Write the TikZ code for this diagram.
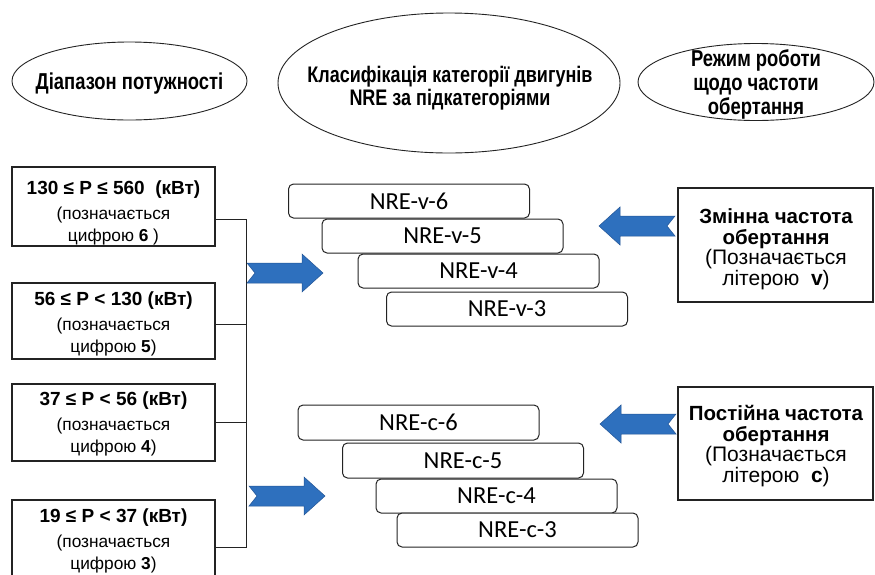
\documentclass[tikz,border=0pt]{standalone}
\usepackage{fontspec}
\setmainfont{Liberation Sans}
\newfontfamily\narrowfont[FakeStretch=0.8]{Liberation Sans}
\newfontfamily\calfont{Carlito}
\usetikzlibrary{shapes.geometric}
\definecolor{arrowblue}{RGB}{46,112,190}
\definecolor{arrowedge}{RGB}{35,85,150}
\definecolor{lineclr}{RGB}{35,35,35}
\begin{document}
\begin{tikzpicture}[x=1pt,y=-1pt,
  head/.style={ellipse,draw=lineclr,line width=0.9pt,inner sep=0pt},
  headtext/.style={align=center,inner sep=0pt,
    font=\narrowfont\bfseries\fontsize{23}{24}\selectfont},
  rangebox/.style={draw=lineclr,line width=1.1pt,minimum width=203pt,inner sep=0pt},
  rangetext/.style={align=center,inner sep=0pt,font=\fontsize{17.3}{22}\selectfont},
  modebox/.style={draw=lineclr,line width=1.1pt,minimum width=195pt,inner sep=0pt},
  modetext/.style={align=center,inner sep=0pt,font=\fontsize{21}{20.5}\selectfont},
  nrebox/.style={draw=lineclr,fill=white,line width=1pt,rounded corners=5pt,
    minimum width=241pt,minimum height=34pt,inner sep=0pt,
    font=\calfont\fontsize{24.5}{26}\selectfont},
  conn/.style={draw=lineclr,line width=1pt},
  blockarrow/.pic={\path[fill=arrowblue,draw=arrowedge,line width=0.5pt]
    (-76,-10) -- (-21,-10) -- (-21,-19) -- (0,0) -- (-21,19) -- (-21,10)
    -- (-76,10) -- (-68,0) -- cycle;}
]
\useasboundingbox (0,0) rectangle (875,574);
\clip (0,0) rectangle (875,574);

% header ellipses
\node[head,minimum width=235pt,minimum height=78pt] (h1) at (129.5,81) {};
\node[headtext] (ht1) at (129.5,84) {Діапазон потужності};
\node[head,minimum width=342pt,minimum height=140pt] (h2) at (449,83) {};
\node[headtext,font=\narrowfont\bfseries\fontsize{22.5}{22.5}\selectfont] (ht2) at (450,88)
  {Класифікація категорії двигунів\\NRE за підкатегоріями};
\node[head,minimum width=236pt,minimum height=77pt] (h3) at (756,82) {};
\node[headtext] (ht3) at (756,84)
  {Режим роботи\\щодо частоти\\обертання};

% power range boxes
\node[rangebox,minimum height=79pt] (b1) at (113.5,206.5) {};
\node[rangetext] (t1) at (113.5,212.5)
  {{\fontsize{19}{22}\selectfont\bfseries 130 ≤ P ≤ 560\ \ (кВт)}\\[3pt](позначається\\цифрою {\bfseries 6} )};
\node[rangebox,minimum height=76pt] (b2) at (113.5,321) {};
\node[rangetext] (t2) at (113.5,324)
  {{\fontsize{19}{22}\selectfont\bfseries 56 ≤ P < 130 (кВт)}\\[3pt](позначається\\цифрою {\bfseries 5})};
\node[rangebox,minimum height=77pt] (b3) at (113.5,422.5) {};
\node[rangetext] (t3) at (113.5,424)
  {{\fontsize{19}{22}\selectfont\bfseries 37 ≤ P < 56 (кВт)}\\[3pt](позначається\\цифрою {\bfseries 4})};
\node[rangebox,minimum height=90pt] (b4) at (113.5,545) {};
\node[rangetext] (t4) at (113.5,541)
  {{\fontsize{19}{22}\selectfont\bfseries 19 ≤ P < 37 (кВт)}\\[3pt](позначається\\цифрою {\bfseries 3})};

% bracket connector
\coordinate (j1) at (246,219);
\coordinate (j2) at (246,324);
\coordinate (j3) at (246,422);
\coordinate (j4) at (246,547);
\draw[conn] (b1.east |- j1) -- (j1) -- (j4) -- (b4.east |- j4);
\draw[conn] (b2.east |- j2) -- (j2);
\draw[conn] (b3.east |- j3) -- (j3);

% NRE-v boxes
\node[nrebox] (v6) at (409,201) {NRE-v-6};
\node[nrebox] (v5) at (442.5,236) {NRE-v-5};
\node[nrebox] (v4) at (478.5,271) {NRE-v-4};
\node[nrebox] (v3) at (507,309) {NRE-v-3};

% NRE-c boxes
\node[nrebox,minimum height=35pt] (c6) at (418.5,422.5) {NRE-c-6};
\node[nrebox,minimum height=35pt] (c5) at (463,460.5) {NRE-c-5};
\node[nrebox] (c4) at (496.5,496) {NRE-c-4};
\node[nrebox] (c3) at (517.5,530) {NRE-c-3};

% mode boxes
\node[modebox,minimum height=114pt] (m1) at (775.5,245) {};
\node[modetext] (mt1) at (776,249)
  {{\fontsize{20.5}{20.5}\selectfont\bfseries Змінна частота}\\{\fontsize{20.5}{20.5}\selectfont\bfseries обертання}\\(Позначається\\літерою\ \ {\bfseries v})};
\node[modebox,minimum height=113pt] (m2) at (775.5,443.5) {};
\node[modetext] (mt2) at (776,446)
  {{\fontsize{20.5}{20.5}\selectfont\bfseries Постійна частота}\\{\fontsize{20.5}{20.5}\selectfont\bfseries обертання}\\(Позначається\\літерою\ \ {\bfseries c})};

% block arrows
\pic (a1) at (323,273) {blockarrow};
\pic (a2) at (325,496) {blockarrow};
\pic[rotate=180] (a3) at (599,226) {blockarrow};
\pic[rotate=180] (a4) at (600,424) {blockarrow};
\end{tikzpicture}
\end{document}
